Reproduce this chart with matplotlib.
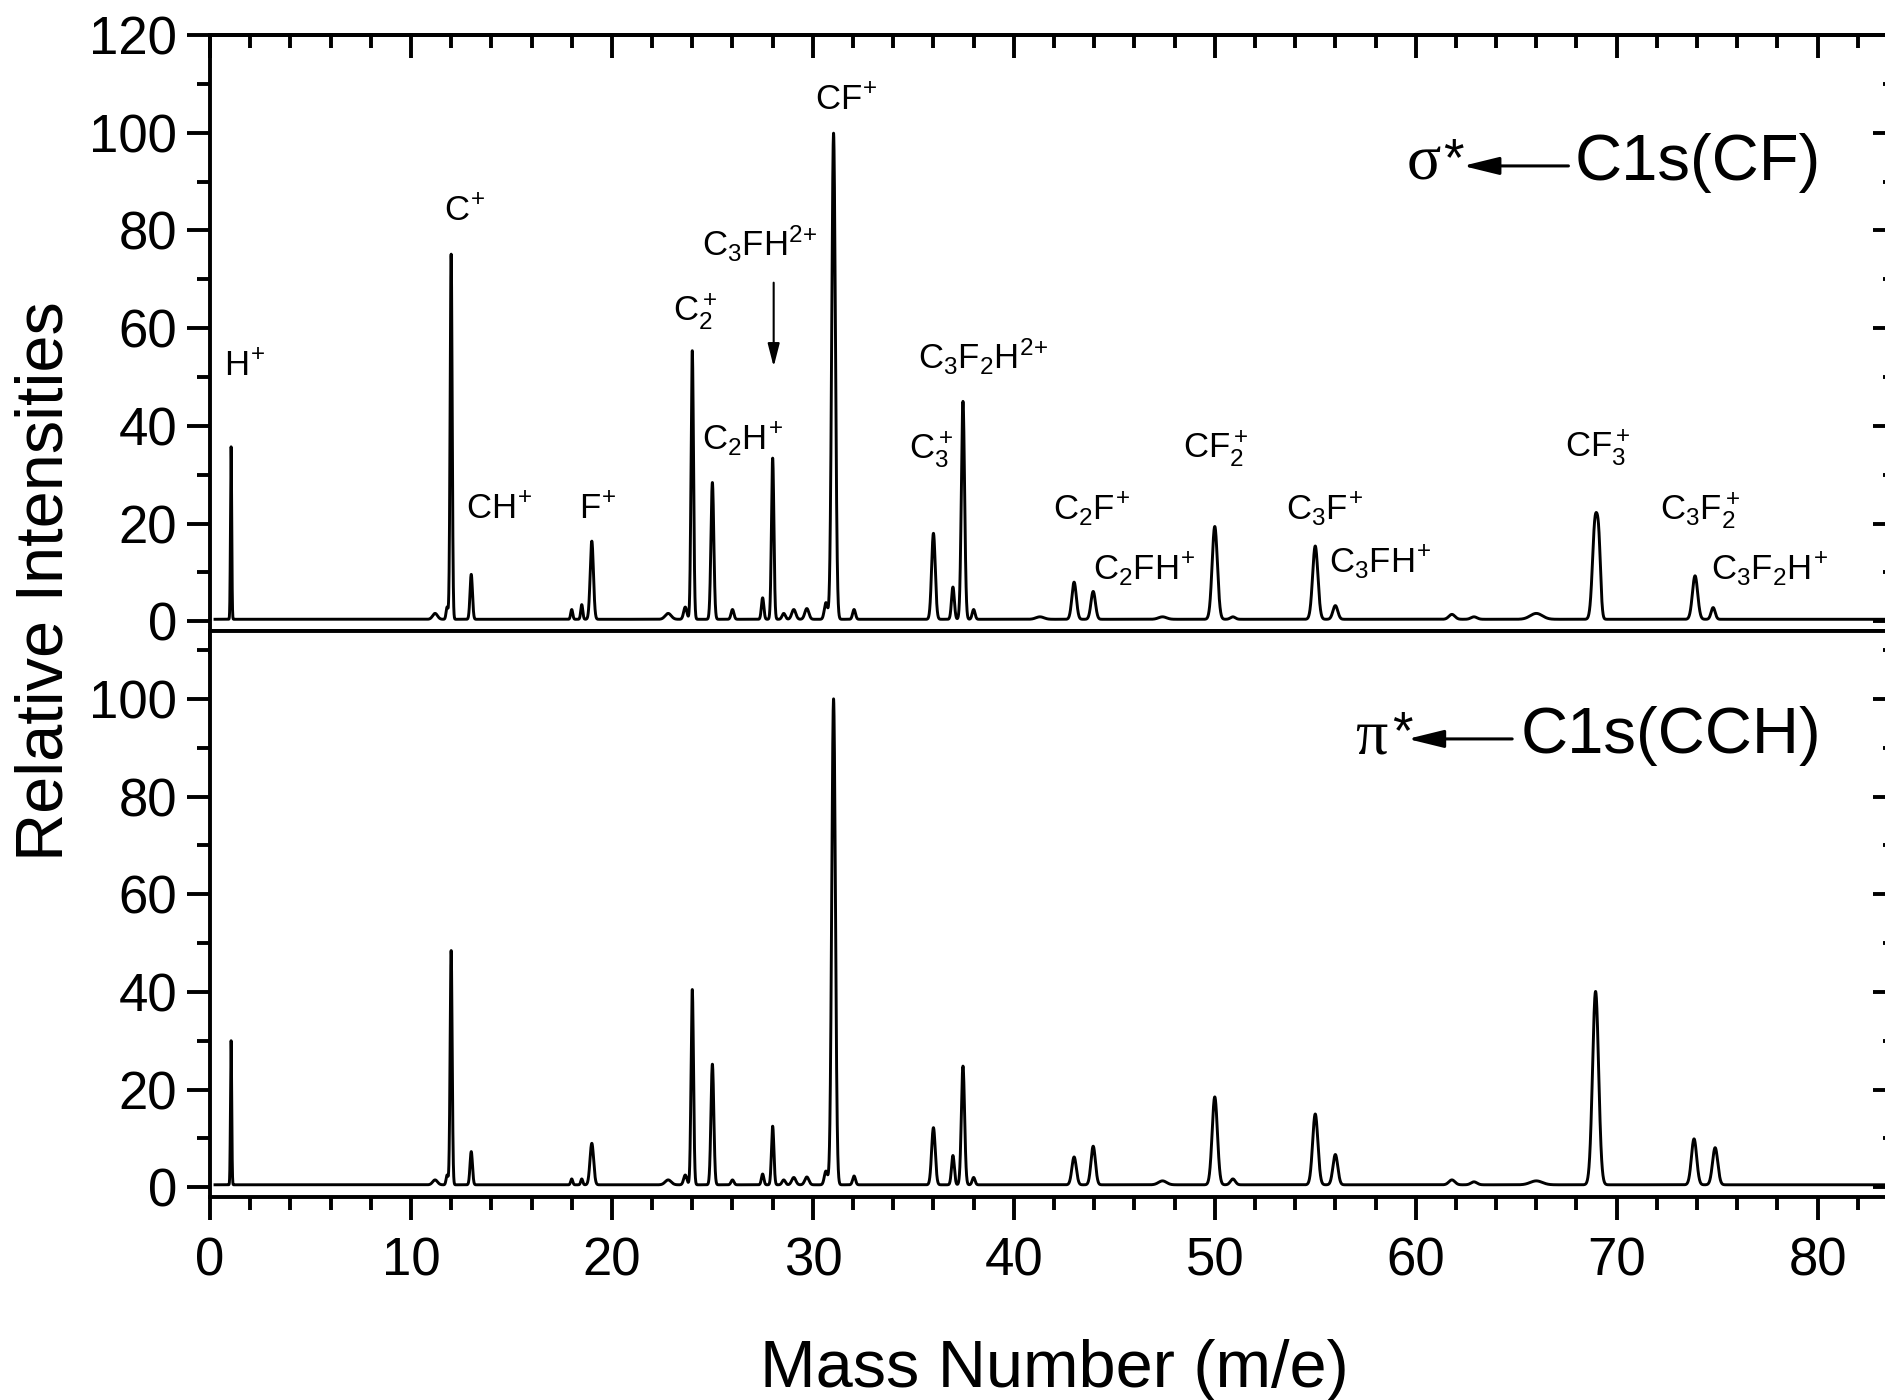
"""Fragment-ion mass spectra after C1s excitation (two stacked panels)."""

import matplotlib

matplotlib.use("Agg")
import matplotlib.pyplot as plt
import numpy as np
from matplotlib.ticker import MultipleLocator

plt.rcParams["font.family"] = ["Liberation Sans", "DejaVu Sans"]
plt.rcParams["mathtext.fontset"] = "custom"
plt.rcParams["mathtext.rm"] = "Liberation Sans"
plt.rcParams["mathtext.it"] = "Liberation Sans:italic"
plt.rcParams["mathtext.bf"] = "Liberation Sans:bold"

# peak tables: mass (m/e), height, gaussian width
sigma_mass = [1.05, 11.2, 11.8, 12.0, 13.0, 18.0, 18.5, 19.0, 22.8, 23.65,
              24.0, 25.0, 26.0, 27.5, 28.0, 28.55, 29.05, 29.7, 30.65, 31.03,
              32.05, 36.0, 36.97, 37.47, 38.0, 41.3, 43.0, 43.95, 47.4, 50.0,
              50.9, 55.0, 56.0, 61.8, 62.9, 66.0, 68.93, 69.12, 73.9, 74.8]
sigma_height = [35.3, 1.2, 2.5, 74.8, 9.2, 2.0, 3.0, 16.0, 1.2, 2.5,
                55.0, 28.0, 2.0, 4.4, 33.0, 1.2, 2.0, 2.2, 3.4, 99.5,
                2.0, 17.6, 6.6, 44.6, 2.0, 0.5, 7.6, 5.7, 0.5, 19.0,
                0.5, 15.0, 2.8, 1.0, 0.5, 1.2, 20.0, 11.0, 8.9, 2.4]
sigma_width = [0.03, 0.12, 0.05, 0.05, 0.06, 0.05, 0.05, 0.08, 0.15, 0.08,
               0.06, 0.07, 0.07, 0.06, 0.06, 0.08, 0.1, 0.1, 0.08, 0.09,
               0.07, 0.09, 0.07, 0.08, 0.07, 0.2, 0.11, 0.11, 0.2, 0.13,
               0.12, 0.13, 0.12, 0.15, 0.15, 0.3, 0.13, 0.09, 0.13, 0.1]
sigma_baseline = 0.4

pi_mass = [1.05, 11.2, 11.8, 12.0, 13.0, 18.0, 18.5, 19.0, 22.8, 23.65,
           24.0, 25.0, 26.0, 27.5, 28.0, 28.55, 29.05, 29.7, 30.65, 31.03,
           32.05, 36.0, 36.97, 37.47, 38.0, 43.0, 43.95, 47.4, 50.0, 50.9,
           55.0, 56.0, 61.8, 62.9, 66.0, 68.95, 73.85, 74.9]
pi_height = [29.5, 1.0, 2.0, 48.0, 6.8, 1.2, 1.2, 8.5, 1.0, 2.0,
             40.0, 24.7, 1.0, 2.2, 12.0, 1.0, 1.5, 1.6, 2.8, 99.5,
             1.8, 11.7, 6.0, 24.3, 1.5, 5.7, 7.9, 0.8, 18.0, 1.2,
             14.5, 6.2, 1.0, 0.6, 0.8, 39.6, 9.4, 7.6]
pi_width = [0.03, 0.12, 0.05, 0.05, 0.06, 0.05, 0.05, 0.09, 0.15, 0.08,
            0.06, 0.07, 0.07, 0.06, 0.06, 0.08, 0.1, 0.1, 0.08, 0.09,
            0.07, 0.09, 0.07, 0.08, 0.07, 0.11, 0.11, 0.2, 0.13, 0.12,
            0.13, 0.12, 0.15, 0.15, 0.3, 0.15, 0.13, 0.13]
pi_baseline = 0.5

ion_labels = [r"$\mathrm{H^{\!+}}$", r"$\mathrm{C^{\!+}}$",
              r"$\mathrm{CH^{\!+}}$", r"$\mathrm{F^{\!+}}$",
              r"$\mathrm{C_2^+}$", r"$\mathrm{C_3FH^{2\!+}}$",
              r"$\mathrm{C_2H^{\!+}}$", r"$\mathrm{CF^{\!+}}$",
              r"$\mathrm{C_3^+}$", r"$\mathrm{C_3F_2H^{2\!+}}$",
              r"$\mathrm{C_2F^{\!+}}$", r"$\mathrm{C_2FH^{\!+}}$",
              r"$\mathrm{CF_2^+}$", r"$\mathrm{C_3F^{\!+}}$",
              r"$\mathrm{C_3FH^{\!+}}$", r"$\mathrm{CF_3^+}$",
              r"$\mathrm{C_3F_2^+}$", r"$\mathrm{C_3F_2H^{\!+}}$"]
label_pos = [(0.72, 50.3), (11.64, 81.9), (12.75, 21.0), (18.34, 21.0),
             (23.06, 61.6), (24.5, 74.7), (24.5, 35.1), (30.1, 104.75),
             (34.77, 33.4), (35.24, 51.7), (41.93, 20.8), (43.93, 8.5),
             (48.44, 33.6), (53.55, 20.8), (55.67, 10.0), (67.45, 33.75),
             (72.14, 20.8), (74.7, 8.5)]

TICK_W = 2.8


def spectrum(x, mass, height, width, base):
    y = np.full_like(x, base)
    for m, h, w in zip(mass, height, width):
        y += h * np.exp(-0.5 * ((x - m) / w) ** 2)
    return y


def style_axes(ax, ymax, ticks_top):
    ax.set_xlim(0, 83.9)
    ax.set_ylim(-2.0, ymax)
    for sp in ax.spines.values():
        sp.set_linewidth(TICK_W)
    ax.xaxis.set_major_locator(MultipleLocator(10))
    ax.xaxis.set_minor_locator(MultipleLocator(2))
    ax.yaxis.set_major_locator(MultipleLocator(20))
    ax.yaxis.set_minor_locator(MultipleLocator(10))
    ax.tick_params(which="major", length=16.5, width=TICK_W, direction="out",
                   labelsize=38, top=False, right=False)
    ax.tick_params(which="minor", length=9.4, width=TICK_W, direction="out",
                   top=False, right=False)
    ax.tick_params(axis="y", pad=7)
    ax.tick_params(axis="x", pad=12)

    sec_y = ax.secondary_yaxis("right")
    sec_y.yaxis.set_major_locator(MultipleLocator(20))
    sec_y.yaxis.set_minor_locator(MultipleLocator(10))
    sec_y.tick_params(which="major", length=16.5, width=TICK_W, direction="in",
                      labelright=False)
    sec_y.tick_params(which="minor", length=9.4, width=TICK_W, direction="in")
    sec_y.spines["right"].set_linewidth(TICK_W)

    if ticks_top:
        sec_x = ax.secondary_xaxis("top")
        sec_x.xaxis.set_major_locator(MultipleLocator(10))
        sec_x.xaxis.set_minor_locator(MultipleLocator(2))
        sec_x.tick_params(which="major", length=16.5, width=TICK_W,
                          direction="in", labeltop=False)
        sec_x.tick_params(which="minor", length=9.4, width=TICK_W,
                          direction="in")
        sec_x.spines["top"].set_linewidth(TICK_W)


def excitation_label(ax, x_sym, x_star, x_tip, x_tail, x_text, y_base, y_arrow,
                     sym, text):
    ax.text(x_sym, y_base, sym, family=["Liberation Serif"], fontsize=46,
            ha="left", va="baseline")
    ax.text(x_star, y_base + 1.0, "*", fontsize=38, ha="left", va="baseline")
    ax.annotate("", xy=(x_tip, y_arrow), xytext=(x_tail, y_arrow),
                arrowprops=dict(arrowstyle="-|>,head_length=22,head_width=5.4",
                                mutation_scale=1, lw=2.2, color="black",
                                shrinkA=0, shrinkB=0))
    ax.text(x_text, y_base, text, fontsize=47, ha="left", va="baseline")


def main() -> None:
    x = np.arange(0.25, 84.0, 0.004)
    y_sigma = spectrum(x, sigma_mass, sigma_height, sigma_width, sigma_baseline)
    y_pi = spectrum(x, pi_mass, pi_height, pi_width, pi_baseline)

    fig = plt.figure(figsize=(18.85, 14), dpi=100)
    left = 210 / 1885
    width = (1896 - 210) / 1885
    ax_top = fig.add_axes([left, 1 - 631 / 1400, width, 596 / 1400])
    ax_bot = fig.add_axes([left, 1 - 1197 / 1400, width, 566 / 1400])

    ax_top.plot(x, y_sigma, color="black", lw=2.1)
    ax_bot.plot(x, y_pi, color="black", lw=2.1)

    style_axes(ax_top, 120.0, True)
    style_axes(ax_bot, 113.9, False)
    ax_top.tick_params(axis="x", labelbottom=False)

    for txt, (lx, ly) in zip(ion_labels, label_pos):
        ax_top.text(lx, ly, txt, fontsize=25, ha="left", va="baseline")
    ax_top.annotate("", xy=(28.05, 52.1), xytext=(28.05, 69.3),
                    arrowprops=dict(arrowstyle="-|>,head_length=14,head_width=3.6",
                                    mutation_scale=1, lw=1.5, color="black",
                                    shrinkA=0, shrinkB=0))

    excitation_label(ax_top, 59.55, 61.35, 62.35, 67.6, 67.9, 90.4, 93.2,
                     "σ", "C1s(CF)")
    excitation_label(ax_bot, 57.0, 58.85, 59.6, 64.8, 65.2, 88.9, 91.8,
                     "π", "C1s(CCH)")

    fig.text(46 / 1885, 0.585, "Relative Intensities", rotation=90,
             fontsize=48, ha="center", va="center")
    fig.text(1054 / 1885, 1 - 1387 / 1400, "Mass Number (m/e)", fontsize=48,
             ha="center", va="baseline")

    fig.savefig("out.png", dpi=100)
    plt.close(fig)


if __name__ == "__main__":
    main()
